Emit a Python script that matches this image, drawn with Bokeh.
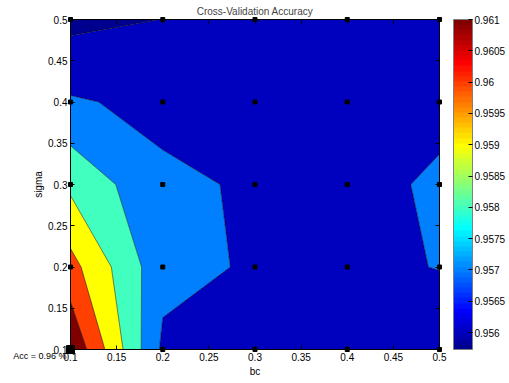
import numpy as np
from bokeh.plotting import figure
from bokeh.models import (ColorBar, LinearColorMapper, FixedTicker, LinearAxis)
from bokeh.core.properties import value
from bokeh.embed import file_html
from bokeh.resources import INLINE

# ---------------- data ----------------
bc_values = [0.1, 0.2, 0.3, 0.4, 0.5]
sigma_values = [0.1, 0.2, 0.3, 0.4, 0.5]
# cross-validation accuracy, one list per sigma (0.1 .. 0.5), columns bc 0.1 .. 0.5
acc_sigma_01 = [0.9619, 0.95681, 0.9565, 0.9564, 0.9563]
acc_sigma_02 = [0.96035, 0.9573, 0.95689, 0.95678, 0.95703]
acc_sigma_03 = [0.95879, 0.95718, 0.95689, 0.9566, 0.95718]
acc_sigma_04 = [0.95711, 0.95675, 0.9566, 0.9565, 0.95669]
acc_sigma_05 = [0.95573, 0.95601, 0.9563, 0.9564, 0.9563]

contour_levels = [0.955, 0.956, 0.957, 0.958, 0.959, 0.960, 0.961, 0.962]

x_ticks = [0.1, 0.15, 0.2, 0.25, 0.3, 0.35, 0.4, 0.45, 0.5]
x_tick_labels = ["0.1", "0.15", "0.2", "0.25", "0.3", "0.35", "0.4", "0.45", "0.5"]
y_ticks = [0.1, 0.15, 0.2, 0.25, 0.3, 0.35, 0.4, 0.45, 0.5]
y_tick_labels = ["0.1", "0.15", "0.2", "0.25", "0.3", "0.35", "0.4", "0.45", "0.5"]
cbar_ticks = [0.956, 0.9565, 0.957, 0.9575, 0.958, 0.9585, 0.959, 0.9595, 0.96, 0.9605, 0.961]
cbar_tick_labels = ["0.956", "0.9565", "0.957", "0.9575", "0.958", "0.9585",
                    "0.959", "0.9595", "0.96", "0.9605", "0.961"]
best_acc_text = "Acc = 0.96 %"
title_text = "Cross-Validation Accuracy"
x_label = "bc"
y_label = "sigma"

FONT = "Liberation Sans"

# ---------------- jet colormap (MATLAB) ----------------
def jet(m):
    n = int(np.ceil(m / 4))
    u = np.concatenate([np.arange(1, n + 1) / n, np.ones(n - 1), np.arange(n, 0, -1) / n])
    g = int(np.ceil(n / 2)) - (1 if m % 4 == 1 else 0) + np.arange(1, len(u) + 1)
    r = g + n
    b = g - n
    cmap = np.zeros((m, 3))
    for idx, ch in ((r, 0), (g, 1), (b, 2)):
        mask = (idx >= 1) & (idx <= m)
        cmap[idx[mask] - 1, ch] = u[mask]
    return cmap

def to_hex(c):
    return "#%02x%02x%02x" % tuple(int(round(v * 255)) for v in c)

M = 64
jet_hex = [to_hex(c) for c in jet(M)]

z = np.array([acc_sigma_01, acc_sigma_02, acc_sigma_03, acc_sigma_04, acc_sigma_05])
cmin = float(z.min())
cmax = max(l for l in contour_levels if l <= z.max())

def color_at(v):
    i = int(np.floor((v - cmin) / (cmax - cmin) * M))
    i = min(max(i, 0), M - 1)
    return jet_hex[i]

fill_colors = [color_at(max(lo, cmin)) for lo in contour_levels[:-1]]

# ---------------- figure ----------------
p = figure(frame_width=369, frame_height=330,
           x_range=(0.1, 0.5), y_range=(0.1, 0.5),
           output_backend="svg", toolbar_location=None,
           title=title_text,
           min_border_left=70, min_border_top=19, min_border_bottom=30, min_border_right=0)
p.title.align = "center"
p.title.text_font = FONT
p.title.text_font_size = "10px"
p.title.text_font_style = "normal"
p.title.standoff = 6
p.title.offset = 0

p.grid.visible = False
p.outline_line_color = "black"
p.outline_line_width = 1
p.background_fill_color = "white"
p.border_fill_color = "white"

p.contour(bc_values, sigma_values, z, levels=contour_levels,
          fill_color=fill_colors, line_color="black", line_width=0.5)

# grid points
gx, gy = np.meshgrid(bc_values, sigma_values)
p.scatter(gx.ravel(), gy.ravel(), marker="square", size=4, color="black", level="overlay")
bi = np.unravel_index(np.argmax(z), z.shape)
best_x = bc_values[bi[1]]
best_y = sigma_values[bi[0]]
p.scatter([best_x], [best_y], marker="square", size=8, color="black", level="overlay")

p.text(x=[best_x], y=[best_y], text=[best_acc_text], x_offset=-4, y_offset=6,
       text_align="right", text_baseline="middle",
       text_font=value(FONT), text_font_size="9px", text_color="black", level="overlay")

def style_axis(ax, ticks, labels, show_labels=True):
    ax.ticker = FixedTicker(ticks=ticks)
    if show_labels:
        ax.major_label_overrides = {t: l for t, l in zip(ticks, labels)}
    else:
        ax.major_label_overrides = {t: "" for t in ticks}
    ax.major_tick_in = 4
    ax.major_tick_out = 0
    ax.minor_tick_line_color = None
    ax.axis_line_color = "black"
    ax.major_tick_line_color = "black"
    ax.major_label_text_font = FONT
    ax.major_label_text_font_size = "10px"
    ax.major_label_text_color = "black"
    ax.axis_label_text_font = FONT
    ax.axis_label_text_font_size = "10px"
    ax.axis_label_text_font_style = "normal"
    ax.axis_label_text_color = "black"

style_axis(p.xaxis[0], x_ticks, x_tick_labels)
p.xaxis[0].axis_label = x_label
p.xaxis[0].major_label_standoff = 3
p.xaxis[0].axis_label_standoff = 2
style_axis(p.yaxis[0], y_ticks, y_tick_labels)
p.yaxis[0].axis_label = y_label
p.yaxis[0].major_label_standoff = 3
p.yaxis[0].axis_label_standoff = 1

top_ax = LinearAxis()
style_axis(top_ax, x_ticks, x_tick_labels, show_labels=False)
top_ax.major_label_standoff = 0
p.add_layout(top_ax, "above")
right_ax = LinearAxis()
style_axis(right_ax, y_ticks, y_tick_labels, show_labels=False)
right_ax.major_label_standoff = 0
p.add_layout(right_ax, "right")

mapper = LinearColorMapper(palette=jet_hex, low=cmin, high=cmax)
cb = ColorBar(color_mapper=mapper, ticker=FixedTicker(ticks=cbar_ticks),
              major_label_overrides={t: l for t, l in zip(cbar_ticks, cbar_tick_labels)},
              width=19, height=330, padding=0, margin=0, location=(14, 0),
              label_standoff=2,
              major_tick_in=4, major_tick_out=0, major_tick_line_color="black",
              minor_tick_line_color=None,
              bar_line_color="#7f7f7f", border_line_color=None,
              background_fill_alpha=0,
              major_label_text_font=FONT, major_label_text_font_size="10px",
              major_label_text_color="black")
p.add_layout(cb, "right")

open("out.html", "w").write(file_html(p, INLINE))
